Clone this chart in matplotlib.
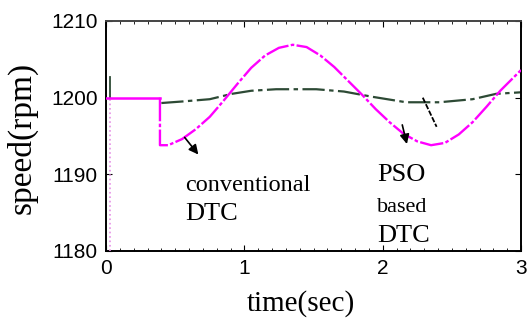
import matplotlib
matplotlib.use('Agg')
import matplotlib.pyplot as plt
from matplotlib.ticker import MultipleLocator

# conventional DTC (magenta) speed response
conv_t = [0.39, 0.39, 0.45, 0.55, 0.65, 0.75, 0.85, 0.95, 1.05, 1.15, 1.25, 1.35,
          1.45, 1.55, 1.65, 1.75, 1.85, 1.95, 2.05, 2.15, 2.25, 2.35, 2.45, 2.55,
          2.65, 2.75, 2.85, 2.95, 3.0]
conv_speed = [1200.0, 1193.8, 1193.8, 1194.6, 1195.9, 1197.5, 1199.6, 1201.8, 1203.9,
              1205.5, 1206.5, 1206.9, 1206.6, 1205.5, 1204.0, 1202.2, 1200.4, 1198.5,
              1196.8, 1195.3, 1194.3, 1193.8, 1194.1, 1195.2, 1196.8, 1198.8, 1200.9,
              1202.7, 1203.6]
conv_start_t = [0.03, 0.03, 0.0, 0.39]
conv_start_speed = [1180.0, 1200.0, 1200.0, 1200.0]

# PSO based DTC (dark green) speed response
pso_t = [0.03, 0.03, 0.40, 0.55, 0.75, 0.91, 1.05, 1.23, 1.52, 1.72, 1.93, 2.17,
         2.41, 2.65, 2.82, 3.0]
pso_speed = [1202.7, 1200.0, 1199.3, 1199.5, 1199.8, 1200.5, 1200.9, 1201.1, 1201.1,
             1200.8, 1200.1, 1199.4, 1199.4, 1199.8, 1200.5, 1200.7]

x_ticks = [0, 1, 2, 3]
y_ticks = [1180, 1190, 1200, 1210]

serif = ['Liberation Serif', 'DejaVu Serif']
sans = ['Liberation Sans', 'DejaVu Sans']

fig = plt.figure(figsize=(5.28, 3.29), dpi=100)
ax = fig.add_axes([106 / 528, 1 - 251 / 329, (521 - 106) / 528, (251 - 21) / 329])

green = '#2d4a35'
ax.plot(pso_t[:2], pso_speed[:2], color=green, lw=1.3, zorder=2)
ax.plot(pso_t[2:], pso_speed[2:], color=green, lw=1.6, ls=(0, (10, 2, 2, 2)), zorder=2)
ax.plot(conv_start_t[:2], conv_start_speed[:2], color='#e58fe5', lw=1.2, ls=':', zorder=3)
ax.plot(conv_start_t[2:], conv_start_speed[2:], color='#ff00ff', lw=1.8, zorder=3)
ax.plot(conv_t, conv_speed, color='#ff00ff', lw=1.7, ls=(0, (10, 1, 1.5, 1)), zorder=3)

ax.set_xlim(0, 3)
ax.set_ylim(1180, 1210)
ax.set_xticks(x_ticks)
ax.set_yticks(y_ticks)
ax.xaxis.set_minor_locator(MultipleLocator(0.1))
ax.tick_params(direction='in', which='both', top=True, right=True, labelsize=15, pad=6)
ax.tick_params(which='minor', length=2)
ax.tick_params(which='major', length=4)
for lab in ax.get_xticklabels() + ax.get_yticklabels():
    lab.set_family(sans)
for s in ax.spines.values():
    s.set_linewidth(1.4)
ax.spines['top'].set_color('#444444')

ax.set_xlabel('time(sec)', family=serif, fontsize=21)
ax.xaxis.set_label_coords(0.47, -0.17)
ax.set_ylabel('speed(rpm)', family=serif, fontsize=24)
ax.yaxis.set_label_coords(-0.165, 0.49)

ax.text(0.57, 1188.6, 'conventional', family=serif, fontsize=17.5, va='center')
ax.text(0.57, 1184.8, 'DTC', family=serif, fontsize=19, va='center')
ax.text(1.96, 1189.9, 'PSO', family=serif, fontsize=19, va='center')
ax.text(1.96, 1185.7, 'based', family=serif, fontsize=16, va='center')
ax.text(1.96, 1182.0, 'DTC', family=serif, fontsize=19, va='center')

ax.annotate('', xy=(0.68, 1192.3), xytext=(0.556, 1195.1),
            arrowprops=dict(arrowstyle='-|>', color='black', lw=1.2, mutation_scale=14))
ax.annotate('', xy=(2.18, 1193.6), xytext=(2.137, 1196.8),
            arrowprops=dict(arrowstyle='-|>', color='black', lw=1.2, mutation_scale=14))
ax.plot([2.29, 2.39], [1200.0, 1196.2], color='black', lw=1.3, ls=(0, (3, 1)))

fig.savefig('out.png', dpi=100)
